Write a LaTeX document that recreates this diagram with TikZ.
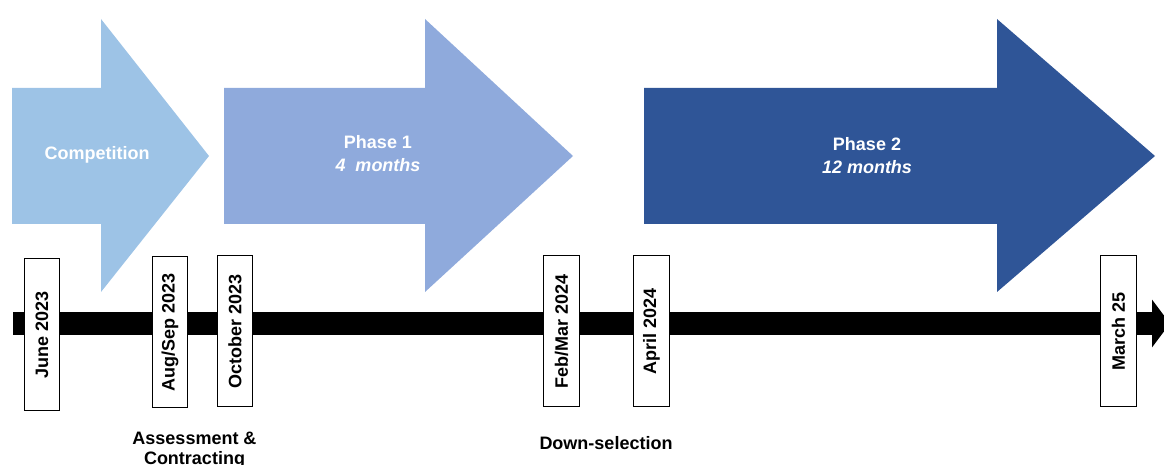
\documentclass[tikz,border=0pt]{standalone}
\usepackage{fontspec}
\setmainfont{Liberation Sans}
\usetikzlibrary{arrows.meta}

\definecolor{compblue}{HTML}{9DC3E6}
\definecolor{phaseone}{HTML}{8FAADC}
\definecolor{phasetwo}{HTML}{2F5597}

\tikzset{
	labeltext/.style={font=\fontsize{12.8}{16.4}\selectfont\bfseries},
	onarrow/.style={labeltext,text=white,align=center},
	datebox/.style={labeltext,draw,fill=white,line width=.7pt,rotate=90,minimum width=108pt,minimum height=25pt,inner sep=0pt},
	timeline/.style={line width=16.4pt,-{Triangle[length=12.8pt,width=33.4pt]}}
}

\begin{document}
\begin{tikzpicture}[x=.025cm,y=-.025cm]
	\useasboundingbox (0,0) rectangle (1164,465);
	% phase arrows
	\foreach \l/\b/\t/\c in {12/101/209/compblue,224/425/573/phaseone,644/997/1155/phasetwo}
		\fill[\c] (\l,88) -- (\b,88) -- (\b,19) -- (\t,156) -- (\b,292) -- (\b,224) -- (\l,224) -- cycle;
	\node[onarrow] (comp) at (97,155) {Competition};
	\node[onarrow] (ph1) at (378,154) {Phase 1\\\textit{4\ \ months}};
	\node[onarrow] (ph2) at (867,156) {Phase 2\\\textit{12 months}};
	% time line
	\path
	(13,323.5) coordinate (tstart)
	(1170,323.5) coordinate (tend);
	\draw[timeline] (tstart) -- (tend);
	\foreach \n/\x/\y/\d in {jun/42/334.5/{June 2023},augsep/170/332/{Aug/Sep 2023},oct/235/331/{October 2023},febmar/561.5/331/{Feb/Mar 2024},apr/651.5/331/{April 2024},mar/1118.5/331/{March 25}}
		\node[datebox] (d-\n) at (\x,\y) {\d};
	\node[labeltext,align=center,anchor=north,inner sep=0pt,font=\fontsize{12.8}{14.2}\selectfont\bfseries] (assess) at (194.5,432) {Assessment \&\\Contracting};
	\node[labeltext,anchor=base,inner sep=0pt] (down) at (606,449) {Down-selection};
\end{tikzpicture}
\end{document}
